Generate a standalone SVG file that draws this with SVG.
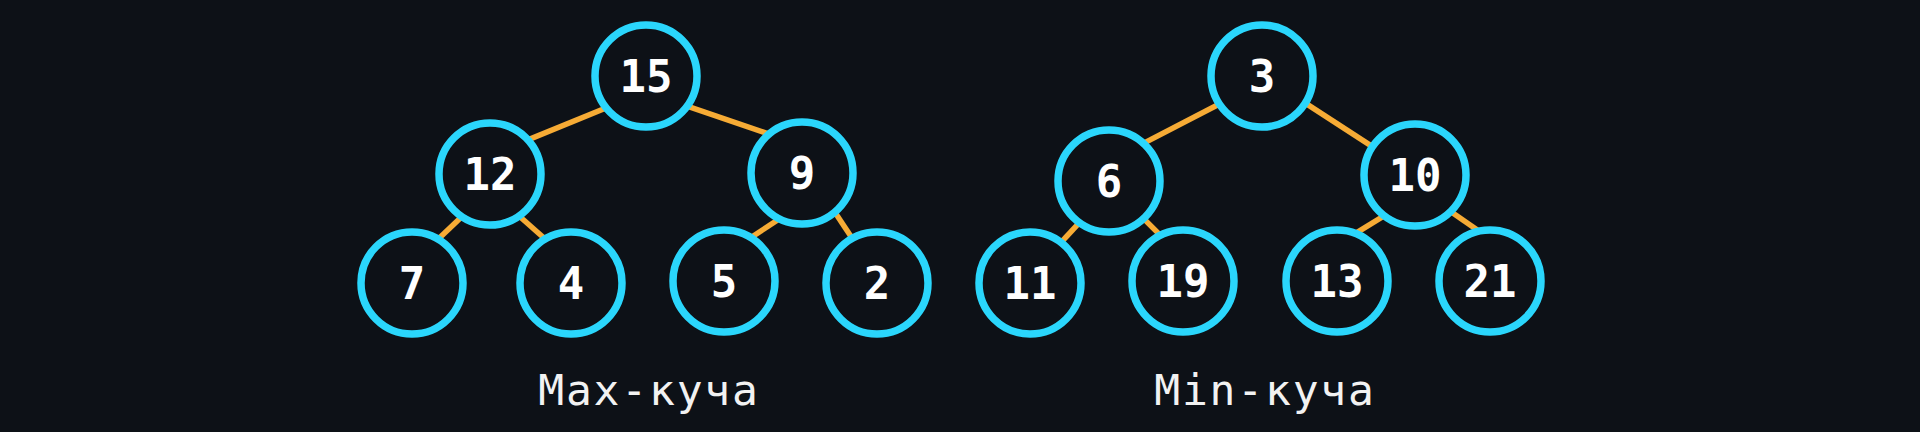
<svg xmlns="http://www.w3.org/2000/svg" width="1920" height="432" viewBox="0 0 1920 432">
  <style>
    .edge { stroke: #f6ab35; stroke-width: 5.5; stroke-linecap: butt; fill: none; }
    .node circle { fill: #0d1117; stroke: #2ad6fc; stroke-width: 7.5; }
    .node text { fill: #ffffff; font-family: "DejaVu Sans Mono", "Liberation Mono", monospace; font-weight: bold; font-size: 44px; text-anchor: middle; }
    .label { fill: #f2f2f2; font-family: "DejaVu Sans Mono", "Liberation Mono", monospace; font-size: 43px; text-anchor: middle; letter-spacing: 1.8px; }
  </style>
  <rect width="1920" height="432" fill="#0d1117"/>
  <g id="connectors">
    <line class="edge" x1="621.2" y1="101.7" x2="513.2" y2="145.9"/>
    <line class="edge" x1="671.8" y1="100.8" x2="783.9" y2="139.2"/>
    <line class="edge" x1="472.8" y1="206.2" x2="426.2" y2="250.5"/>
    <line class="edge" x1="506.7" y1="205" x2="556.7" y2="249.3"/>
    <line class="edge" x1="791.7" y1="210.7" x2="736.6" y2="247"/>
    <line class="edge" x1="825.6" y1="198.3" x2="861.1" y2="251.7"/>
    <line class="edge" x1="1233.4" y1="96.8" x2="1128.9" y2="150.9"/>
    <line class="edge" x1="1291.5" y1="94.1" x2="1385.1" y2="154.9"/>
    <line class="edge" x1="1090.3" y1="210.8" x2="1049.7" y2="254.7"/>
    <line class="edge" x1="1130.9" y1="205.9" x2="1172.4" y2="247.4"/>
    <line class="edge" x1="1397" y1="207.8" x2="1341.3" y2="242.2"/>
    <line class="edge" x1="1436.9" y1="201.9" x2="1491.4" y2="239.7"/>
  </g>
  <g id="max-15" class="node"><circle cx="646" cy="76" r="51"/><text x="646" y="92">15</text></g>
  <g id="max-12" class="node"><circle cx="490" cy="174" r="51"/><text x="490" y="190">12</text></g>
  <g id="max-9" class="node"><circle cx="802" cy="173" r="51"/><text x="802" y="189">9</text></g>
  <g id="max-7" class="node"><circle cx="412" cy="283" r="51"/><text x="412" y="299">7</text></g>
  <g id="max-4" class="node"><circle cx="571" cy="283" r="51"/><text x="571" y="299">4</text></g>
  <g id="max-5" class="node"><circle cx="724" cy="281" r="51"/><text x="724" y="297">5</text></g>
  <g id="max-2" class="node"><circle cx="877" cy="283" r="51"/><text x="877" y="299">2</text></g>
  <g id="min-3" class="node"><circle cx="1262" cy="76" r="51"/><text x="1262" y="92">3</text></g>
  <g id="min-6" class="node"><circle cx="1109" cy="181" r="51"/><text x="1109" y="197">6</text></g>
  <g id="min-10" class="node"><circle cx="1415" cy="175" r="51"/><text x="1415" y="191">10</text></g>
  <g id="min-11" class="node"><circle cx="1030" cy="283" r="51"/><text x="1030" y="299">11</text></g>
  <g id="min-19" class="node"><circle cx="1183" cy="281" r="51"/><text x="1183" y="297">19</text></g>
  <g id="min-13" class="node"><circle cx="1337" cy="281" r="51"/><text x="1337" y="297">13</text></g>
  <g id="min-21" class="node"><circle cx="1490" cy="281" r="51"/><text x="1490" y="297">21</text></g>
  <g id="labels">
    <text class="label" x="649" y="405">Max-куча</text>
    <text class="label" x="1265" y="405">Min-куча</text>
  </g>
</svg>
